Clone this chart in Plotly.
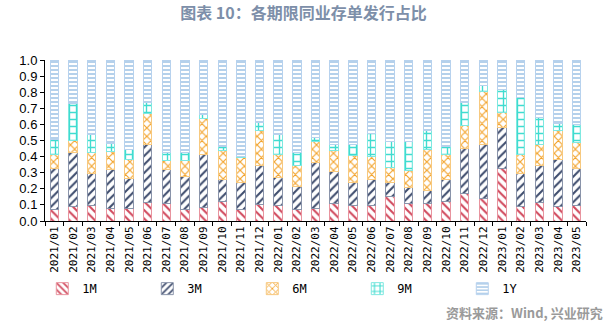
import plotly.graph_objects as go

categories = ["2021/01","2021/02","2021/03","2021/04","2021/05","2021/06","2021/07","2021/08","2021/09","2021/10",
              "2021/11","2021/12","2022/01","2022/02","2022/03","2022/04","2022/05","2022/06","2022/07","2022/08",
              "2022/09","2022/10","2022/11","2022/12","2023/01","2023/02","2023/03","2023/04","2023/05"]

# cumulative tops
top_1m = [0.072,0.089,0.099,0.079,0.077,0.114,0.108,0.070,0.081,0.120,0.072,0.101,0.097,0.072,0.077,0.106,0.095,0.097,0.150,0.110,0.110,0.124,0.172,0.141,0.325,0.093,0.116,0.089,0.097]
top_3m = [0.327,0.424,0.292,0.317,0.263,0.478,0.317,0.275,0.416,0.255,0.238,0.346,0.271,0.213,0.366,0.308,0.242,0.255,0.242,0.209,0.188,0.255,0.449,0.474,0.578,0.292,0.342,0.379,0.325]
top_6m = [0.416,0.499,0.424,0.431,0.385,0.669,0.373,0.373,0.638,0.437,0.395,0.565,0.410,0.346,0.495,0.441,0.408,0.400,0.333,0.313,0.447,0.416,0.594,0.805,0.673,0.416,0.474,0.565,0.487]
top_9m = [0.507,0.727,0.536,0.482,0.445,0.737,0.427,0.424,0.663,0.462,0.400,0.611,0.538,0.427,0.516,0.476,0.476,0.545,0.495,0.491,0.561,0.462,0.735,0.843,0.818,0.768,0.642,0.607,0.602]

s_1m = [round(a, 3) for a in top_1m]
s_3m = [round(b - a, 3) for a, b in zip(top_1m, top_3m)]
s_6m = [round(b - a, 3) for a, b in zip(top_3m, top_6m)]
s_9m = [round(b - a, 3) for a, b in zip(top_6m, top_9m)]
s_1y = [round(1 - a, 3) for a in top_9m]

series = [
    ("1M", s_1m, "#d0485c", "#e8949f", "\\", 6),
    ("3M", s_3m, "#3e4c6d", "#8a94aa", "/", 6),
    ("6M", s_6m, "#f3a32a", "#f7c97f", "x", 6),
    ("9M", s_9m, "#3fdcd0", "#7fe8e0", "+", 7),
    ("1Y", s_1y, "#96bde3", "#b7d2ee", "-", 4),
]

fig = go.Figure()
for name, vals, fg, line, shape, psize in series:
    fig.add_trace(go.Bar(
        x=categories, y=vals, name=name,
        marker=dict(color="white",
                    line=dict(color=line, width=1),
                    pattern=dict(shape=shape, fgcolor=fg, bgcolor="white",
                                 size=psize, solidity=0.35, fillmode="replace")),
    ))

fig.update_layout(
    barmode="stack",
    bargap=0.55,
    width=607, height=328,
    margin=dict(l=45, r=21, t=60, b=107, autoexpand=False),
    paper_bgcolor="white", plot_bgcolor="white",
    font=dict(family="Liberation Sans, Arial, sans-serif", size=12, color="black"),
    title=dict(text="<b>图表 10：各期限同业存单发行占比</b>", x=0.5, xanchor="center",
               y=0.975, yanchor="top",
               font=dict(family="Noto Sans CJK SC", size=16, color="#7d8fa9")),
    legend=dict(orientation="h", x=-0.005, xanchor="left", y=-0.33, yanchor="top",
                font=dict(size=12, family="DejaVu Sans Mono"), itemwidth=30,
                entrywidth=60, entrywidthmode="pixels", traceorder="normal",
                bgcolor="rgba(0,0,0,0)"),
    showlegend=True,
)
fig.update_yaxes(range=[0, 1.0], dtick=0.1, tickformat=".1f", showgrid=False,
                 showline=True, linecolor="black", linewidth=1,
                 ticks="outside", ticklen=4, tickcolor="black",
                 tickfont=dict(size=13), automargin=False)
fig.update_xaxes(showgrid=False, showline=True, linecolor="black", linewidth=1,
                 ticks="outside", ticklen=4, tickcolor="black", tickson="boundaries",
                 tickangle=-90, tickfont=dict(size=11, family="DejaVu Sans Mono"),
                 automargin=False)
fig.add_annotation(text="<b>资料来源：Wind, 兴业研究</b>", xref="paper", yref="paper",
                   x=1.035, y=-0.571, xanchor="right", yanchor="middle", showarrow=False,
                   font=dict(family="Noto Sans CJK SC", size=13, color="#9a9a9a"))

fig.write_html("out.html")
